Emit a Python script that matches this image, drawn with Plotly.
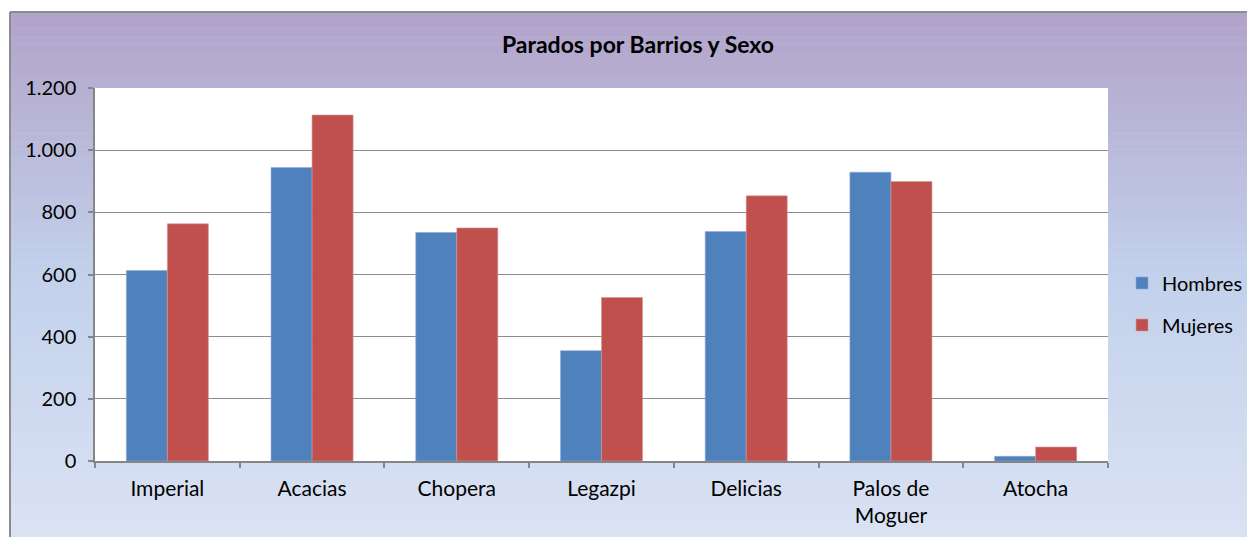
import plotly.graph_objects as go

barrios = ["Imperial", "Acacias", "Chopera", "Legazpi", "Delicias", "Palos de<br>Moguer", "Atocha"]
hombres = [613, 944, 735, 355, 738, 929, 15]
mujeres = [763, 1113, 750, 526, 853, 899, 45]
y_ticks = [0, 200, 400, 600, 800, 1000, 1200]

# page body has an 8px margin: work in figure coordinates = screen - 8
OFF = 8
W, H = 1255 - OFF, 537 - OFF
L, R, T, B = 95 - OFF, 1108 - OFF, 88 - OFF, 461 - OFF

def xp(sx):
    return (sx - OFF - L) / (R - L)

def yp(sy):
    return (B - (sy - OFF)) / (B - T)

fig = go.Figure()
fig.add_trace(go.Bar(name="Hombres", x=barrios, y=hombres,
                     marker=dict(color="#4F81BD", line=dict(color="#8EAADB", width=0.6)), legendgroup="h"))
fig.add_trace(go.Bar(name="Mujeres", x=barrios, y=mujeres,
                     marker=dict(color="#C0504D", line=dict(color="#D99694", width=0.6)), legendgroup="m"))

# gradient background strips
shapes = []
top_c = (177, 163, 201)
mid_c = (195, 209, 236)
bot_c = (219, 227, 244)
y0, y1 = 12, 545
n = 66
for i in range(n):
    a = y0 + (y1 - y0) * i / n
    b = y0 + (y1 - y0) * (i + 1) / n
    t = (a + b) / 2
    if t < 280:
        f = (t - y0) / (280 - y0)
        c = tuple(round(top_c[k] + (mid_c[k] - top_c[k]) * f) for k in range(3))
    else:
        f = (t - 280) / (y1 - 280)
        c = tuple(round(mid_c[k] + (bot_c[k] - mid_c[k]) * f) for k in range(3))
    shapes.append(dict(type="rect", xref="paper", yref="paper", x0=xp(10), x1=xp(1270),
                       y0=yp(b + 0.5), y1=yp(a), fillcolor="rgb(%d,%d,%d)" % c,
                       line=dict(width=0), layer="below"))
# white plot area
shapes.append(dict(type="rect", xref="paper", yref="paper", x0=0, x1=1, y0=0, y1=1,
                   fillcolor="white", line=dict(width=0), layer="below"))
# outer border
shapes.append(dict(type="line", xref="paper", yref="paper", x0=xp(10), x1=xp(1270), y0=yp(12), y1=yp(12),
                   line=dict(color="#8C8C8C", width=2)))
shapes.append(dict(type="line", xref="paper", yref="paper", x0=xp(10), x1=xp(10), y0=yp(12), y1=yp(545),
                   line=dict(color="#8C8C8C", width=2)))

fig.update_layout(
    width=W, height=H,
    margin=dict(l=L, r=W - R, t=T, b=H - B, pad=0, autoexpand=False),
    paper_bgcolor="white",
    plot_bgcolor="white",
    separators=",.",
    font=dict(family="Lato", size=20, color="black"),
    title=dict(text="<b>Parados por Barrios y Sexo</b>", x=(638 - OFF) / W, xref="container", xanchor="center",
               y=1 - (45 - OFF) / H, yref="container", yanchor="middle",
               font=dict(family="Lato", size=23, color="black")),
    barmode="group",
    bargap=0.433,
    bargroupgap=0,
    showlegend=True,
    legend=dict(x=xp(1122), y=yp(304), xanchor="left", yanchor="middle", bgcolor="rgba(0,0,0,0)",
                font=dict(family="Lato", size=20, color="black"), tracegroupgap=13, traceorder="grouped",
                itemwidth=30),
    shapes=shapes,
    xaxis=dict(showline=True, linecolor="#868686", linewidth=1.5, ticks="outside", tickson="boundaries",
               ticklen=5, tickcolor="#868686", tickwidth=1.5, showgrid=False, ticklabelstandoff=8,
               tickfont=dict(family="Lato", size=21, color="black")),
    yaxis=dict(range=[0, 1200], tickvals=y_ticks, tickformat=",d", showline=True, linecolor="#868686",
               linewidth=1.5, ticks="outside", ticklen=5, tickcolor="#868686", tickwidth=1.5,
               showgrid=True, gridcolor="#8C8C8C", gridwidth=1, zeroline=False, ticklabelstandoff=8,
               tickfont=dict(family="Lato", size=20, color="black")),
)

fig.write_html("out.html")
